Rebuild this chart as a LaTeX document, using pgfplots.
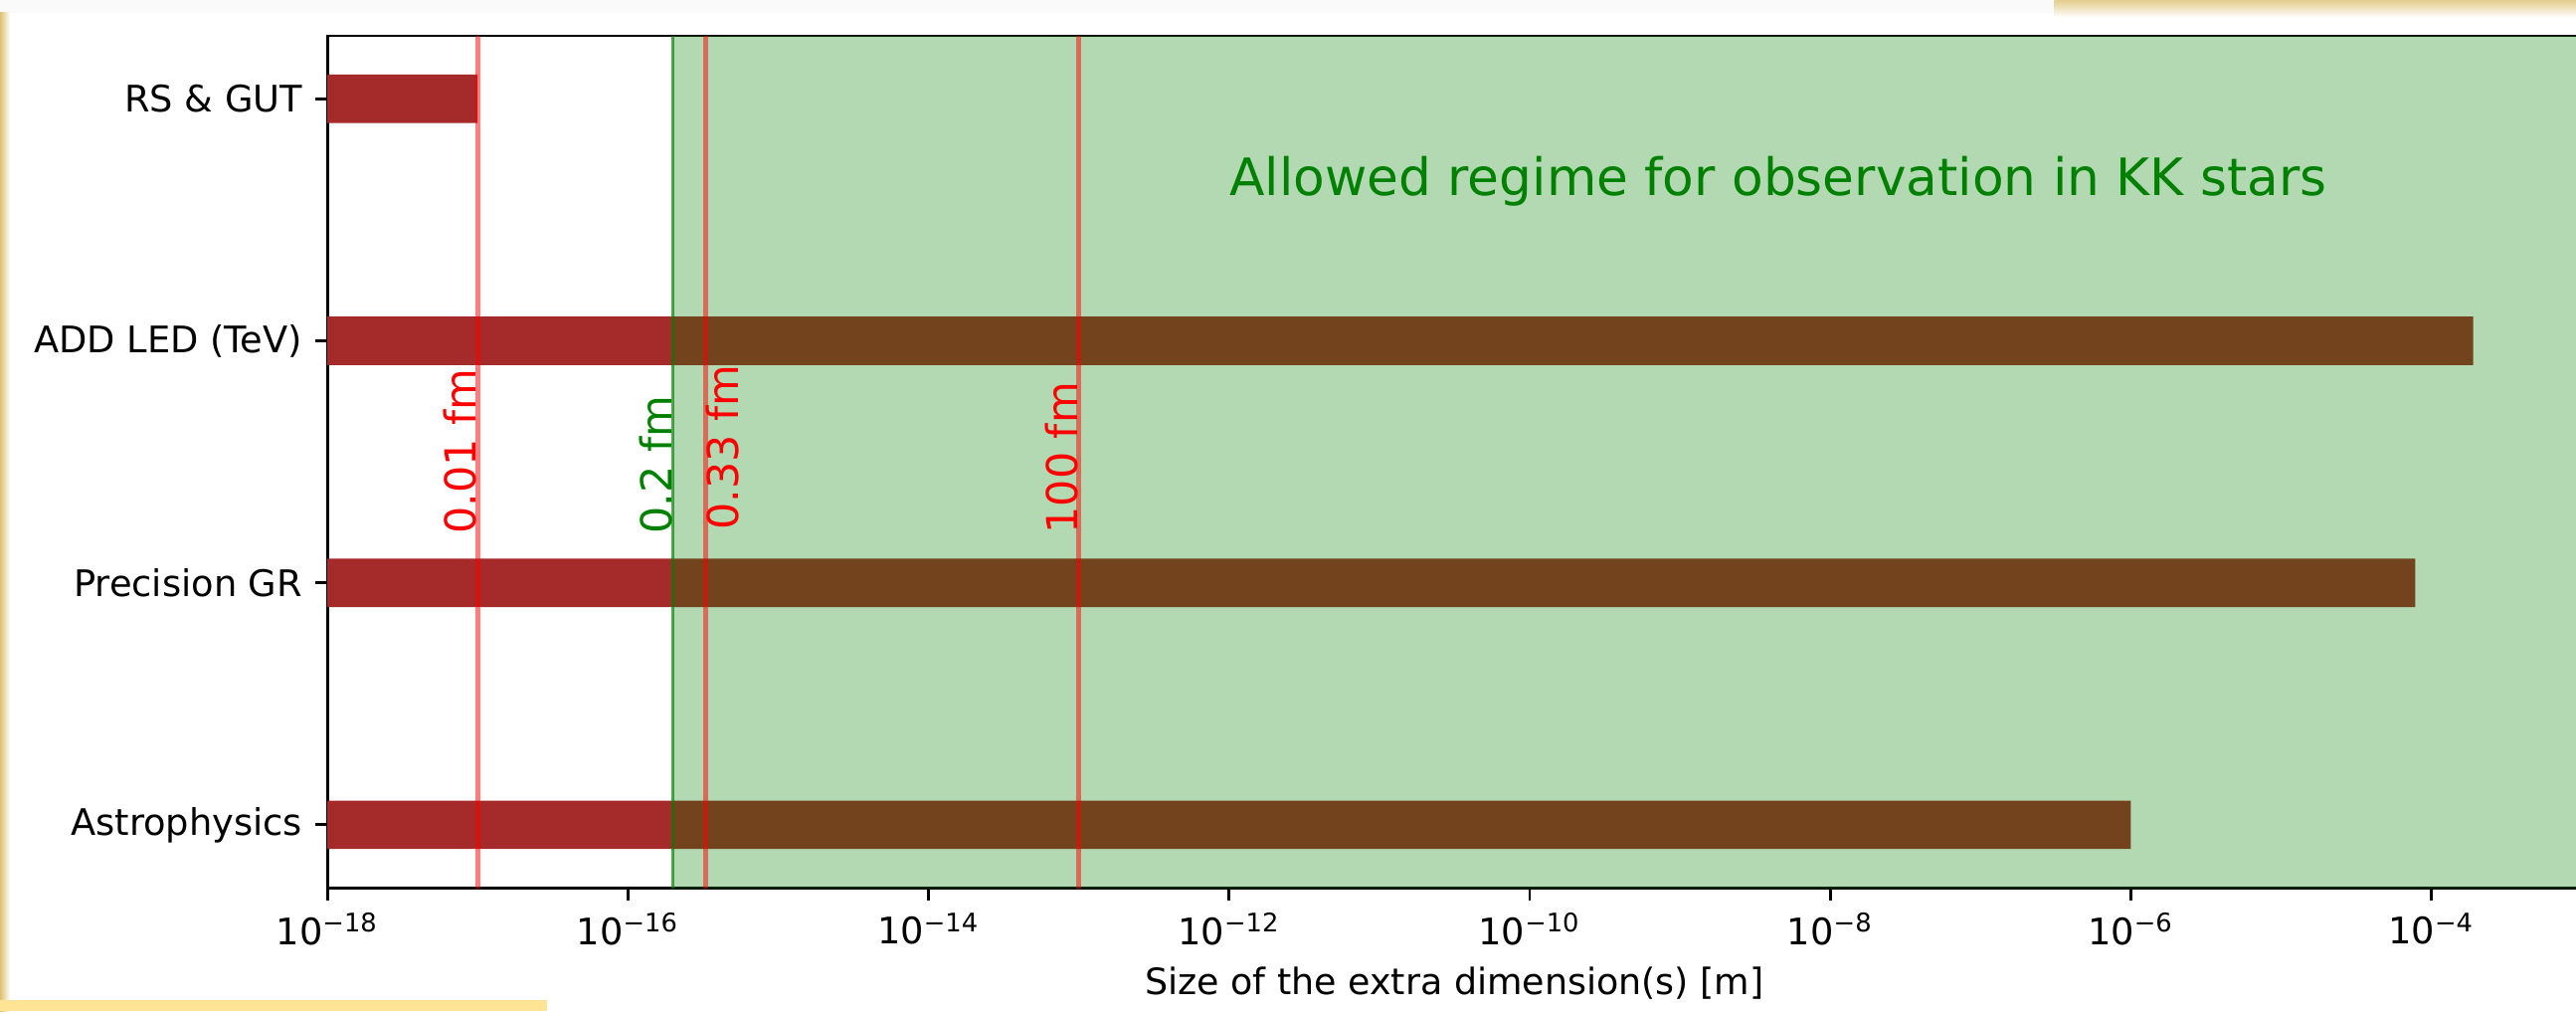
\documentclass[border=0pt]{standalone}
\usepackage{fontspec}
\setmainfont{DejaVu Sans}
\usepackage{pgfplots}
\pgfplotsset{compat=1.18}

\definecolor{barbrown}{RGB}{165,42,42}
\definecolor{mplgreen}{RGB}{0,128,0}
\definecolor{mplred}{RGB}{255,0,0}
\definecolor{gold}{RGB}{222,192,112}
\definecolor{paleyellow}{RGB}{255,228,150}

% 10^{-n} in the text font
\newcommand{\tp}[1]{10\textsuperscript{\char"2212\relax #1}}

\begin{document}
\begin{tikzpicture}
\begin{axis}[
    at={(0,0)}, anchor=south west,
    scale only axis, width=634.9pt, height=239.8pt,
    xmode=log, log origin=infty,
    xmin=1e-18, xmax=1e-3,
    ymin=-0.26, ymax=3.26,
    xtick={1e-18,1e-16,1e-14,1e-12,1e-10,1e-8,1e-6,1e-4},
    xticklabels={\tp{18},\tp{16},\tp{14},\tp{12},\tp{10},\tp{8},\tp{6},\tp{4}},
    xminorticks=false,
    ytick={0,1,2,3},
    yticklabels={Astrophysics,Precision GR,ADD LED (TeV),RS \& GUT},
    xtick pos=bottom, ytick pos=left,
    tick align=outside, major tick length=3.5pt,
    axis line style={line width=0.8pt},
    every tick/.style={black, line width=0.8pt},
    tick label style={font=\fontsize{10.3}{12}\selectfont},
    xlabel={Size of the extra dimension(s) [m]},
    xlabel style={at={(axis description cs:0.5,0)}, anchor=base, yshift=-30.2pt,
                  font=\fontsize{10.2}{12}\selectfont},
]

% bars
\addplot[xbar, bar width=0.2, fill=barbrown, draw=none]
    coordinates {(1e-6,0) (7.8e-5,1) (1.9e-4,2) (1e-17,3)};

% allowed regime
\addplot[draw=none, fill=mplgreen, fill opacity=0.3]
    coordinates {(2e-16,-1) (1e-2,-1) (1e-2,5) (2e-16,5)} -- cycle;

% scale lines
\addplot[mplgreen, line width=0.8pt, opacity=0.7] coordinates {(2e-16,-1) (2e-16,5)};
\addplot[mplred, line width=1.5pt, opacity=0.5] coordinates {(1e-17,-1) (1e-17,5)};
\addplot[mplred, line width=1.5pt, opacity=0.5] coordinates {(3.3e-16,-1) (3.3e-16,5)};
\addplot[mplred, line width=1.5pt, opacity=0.5] coordinates {(1e-13,-1) (1e-13,5)};

\node[rotate=90, anchor=south west, inner sep=0pt, text=mplred,
      font=\fontsize{12}{14}\selectfont] at (axis cs:1e-17,1.2) {0.01 fm};
\node[rotate=90, anchor=south west, inner sep=0pt, text=mplgreen,
      font=\fontsize{12}{14}\selectfont] at (axis cs:2e-16,1.2) {0.2 fm};
\node[rotate=90, anchor=north west, inner sep=0pt, xshift=1pt, text=mplred,
      font=\fontsize{12}{14}\selectfont] at (axis cs:3.3e-16,1.2) {0.33 fm};
\node[rotate=90, anchor=south west, inner sep=0pt, text=mplred,
      font=\fontsize{12}{14}\selectfont] at (axis cs:1e-13,1.2) {100 fm};

\node[anchor=base west, inner sep=0pt, text=mplgreen,
      font=\fontsize{14.5}{17}\selectfont] at (axis cs:1e-12,2.6)
      {Allowed regime for observation in KK stars};
\end{axis}

% screenshot frame
\fill[black!2] (-92.2pt,246.3pt) rectangle (486.4pt,249.9pt);
\shade[top color=gold!80, bottom color=white] (486.4pt,245.0pt) rectangle (633.3pt,249.9pt);
\shade[left color=gold, right color=white] (-92.2pt,-34.7pt) rectangle (-89.4pt,246.3pt);
\fill[paleyellow] (-92.2pt,-34.7pt) rectangle (61.9pt,-31.6pt);

\pgfresetboundingbox
\path[use as bounding box] (-92.2pt,-34.7pt) rectangle (633.3pt,249.9pt);
\end{tikzpicture}
\end{document}
